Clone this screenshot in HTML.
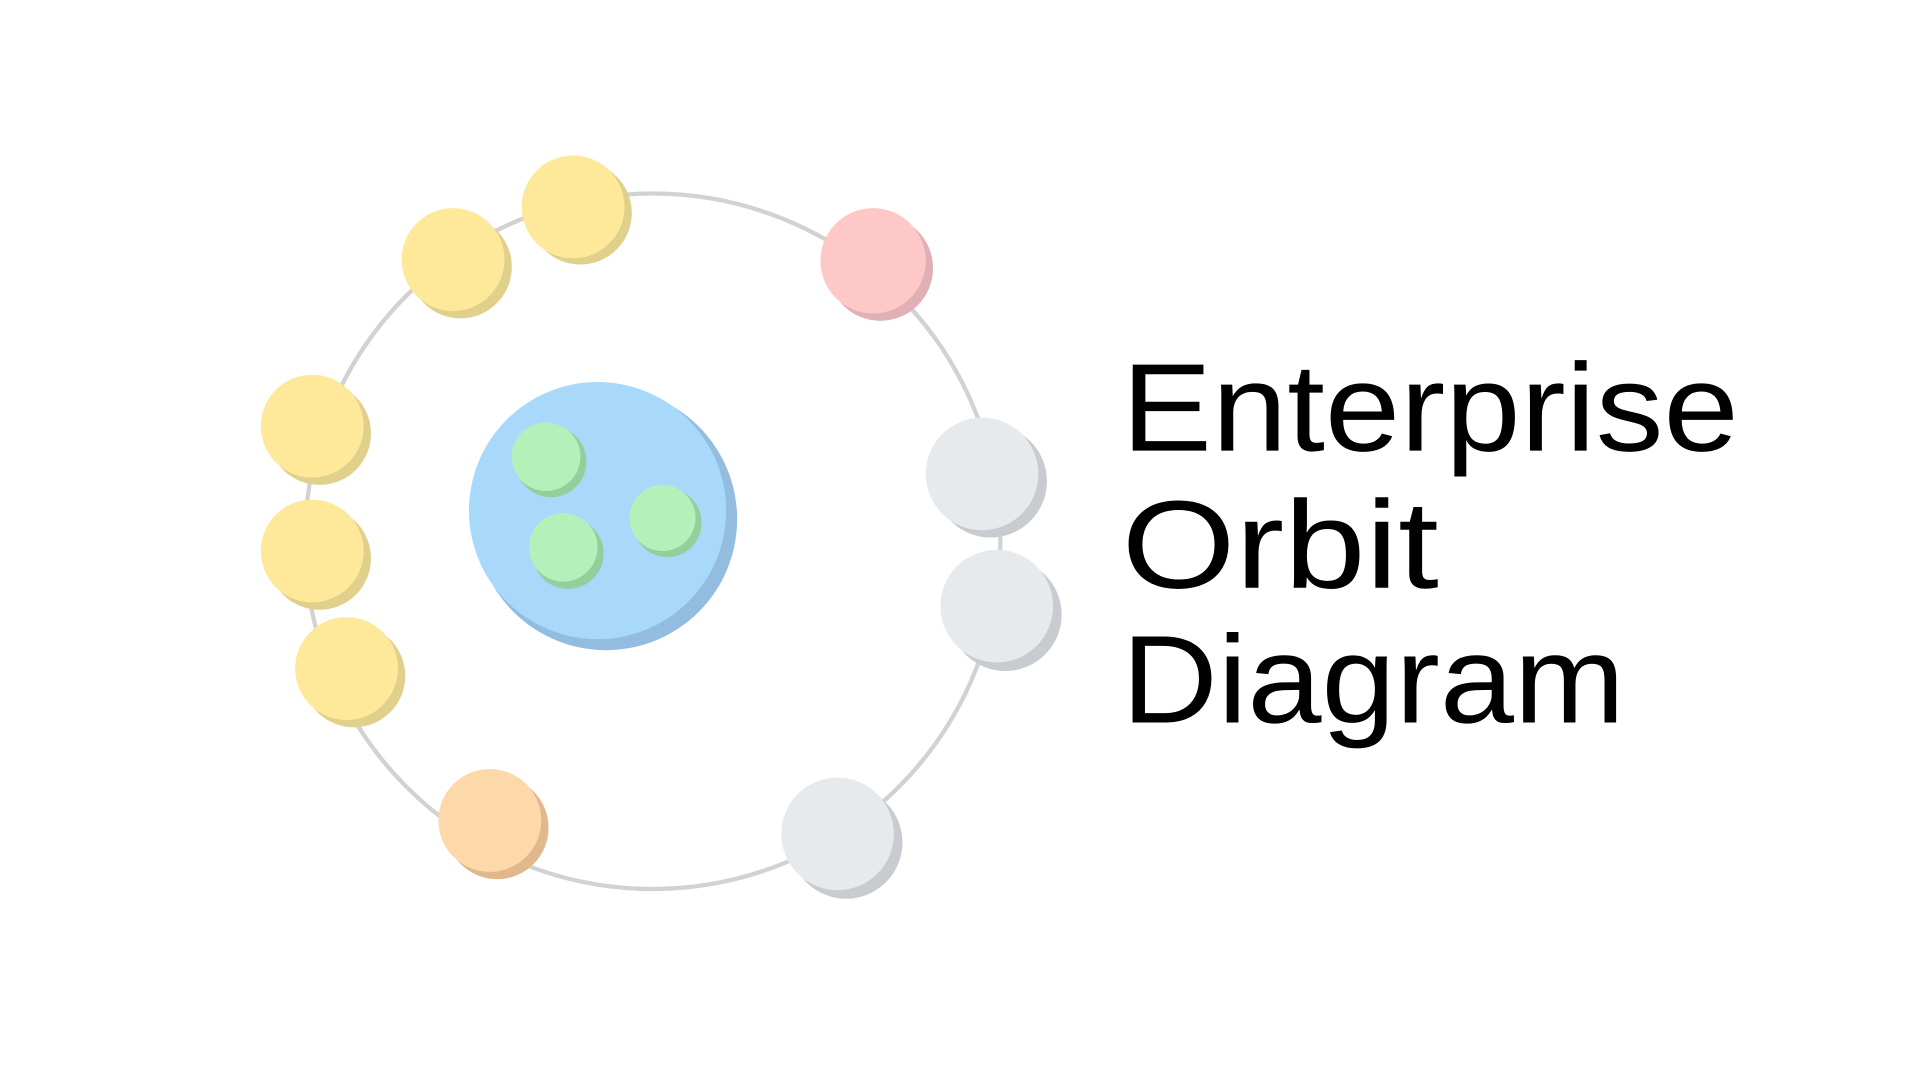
<!DOCTYPE html>
<html><head><meta charset="utf-8"><style>html,body{margin:0;padding:0;background:#fff;width:1920px;height:1080px;overflow:hidden}</style></head>
<body>
<svg width="1920" height="1080" viewBox="0 0 1568 882" preserveAspectRatio="none" xmlns="http://www.w3.org/2000/svg">
<rect width="1568" height="882" fill="#fff"/>
<circle cx="533" cy="442" r="284" fill="none" stroke="#d2d2d2" stroke-width="3.5"/>
<g>
<circle cx="495" cy="424" r="107" fill="#92bde0"/>
<circle cx="488" cy="417" r="105" fill="#a8d8fa"/>
<circle cx="450" cy="377" r="29" fill="#93cf9c"/>
<circle cx="446" cy="373" r="28" fill="#b4f0b9"/>
<circle cx="464" cy="452" r="29" fill="#93cf9c"/>
<circle cx="460" cy="447" r="28" fill="#b4f0b9"/>
<circle cx="545" cy="427" r="28" fill="#93cf9c"/>
<circle cx="541" cy="423" r="27" fill="#b4f0b9"/>
</g>
<g>
<circle cx="474" cy="174" r="42" fill="#e0d08c"/><circle cx="468" cy="169" r="42" fill="#fde999"/>
<circle cx="376" cy="218" r="42" fill="#e0d08c"/><circle cx="370" cy="212" r="42" fill="#fde999"/>
<circle cx="261" cy="354" r="42" fill="#e0d08c"/><circle cx="255" cy="348" r="42" fill="#fde999"/>
<circle cx="261" cy="456" r="42" fill="#e0d08c"/><circle cx="255" cy="450" r="42" fill="#fde999"/>
<circle cx="289" cy="552" r="42" fill="#e0d08c"/><circle cx="283" cy="546" r="42" fill="#fde999"/>
<circle cx="406" cy="676" r="42" fill="#e0b88c"/><circle cx="400" cy="670" r="42" fill="#fdd8a8"/>
<circle cx="719" cy="219" r="43" fill="#e0b0b4"/><circle cx="713" cy="213" r="43" fill="#fec8c8"/>
<circle cx="809" cy="393" r="46" fill="#c8ccd0"/><circle cx="802" cy="387" r="46" fill="#e7eaec"/>
<circle cx="821" cy="502" r="46" fill="#c8ccd0"/><circle cx="814" cy="495" r="46" fill="#e7eaec"/>
<circle cx="691" cy="688" r="46" fill="#c8ccd0"/><circle cx="684" cy="681" r="46" fill="#e7eaec"/>
</g>
<g font-family="'Liberation Sans', sans-serif" font-size="102" fill="#000">
<text x="916" y="368" textLength="504" lengthAdjust="spacingAndGlyphs">Enterprise</text>
<text x="916" y="480" textLength="259" lengthAdjust="spacingAndGlyphs">Orbit</text>
<text x="916" y="590" textLength="411" lengthAdjust="spacingAndGlyphs">Diagram</text>
</g>
</svg>
</body></html>
